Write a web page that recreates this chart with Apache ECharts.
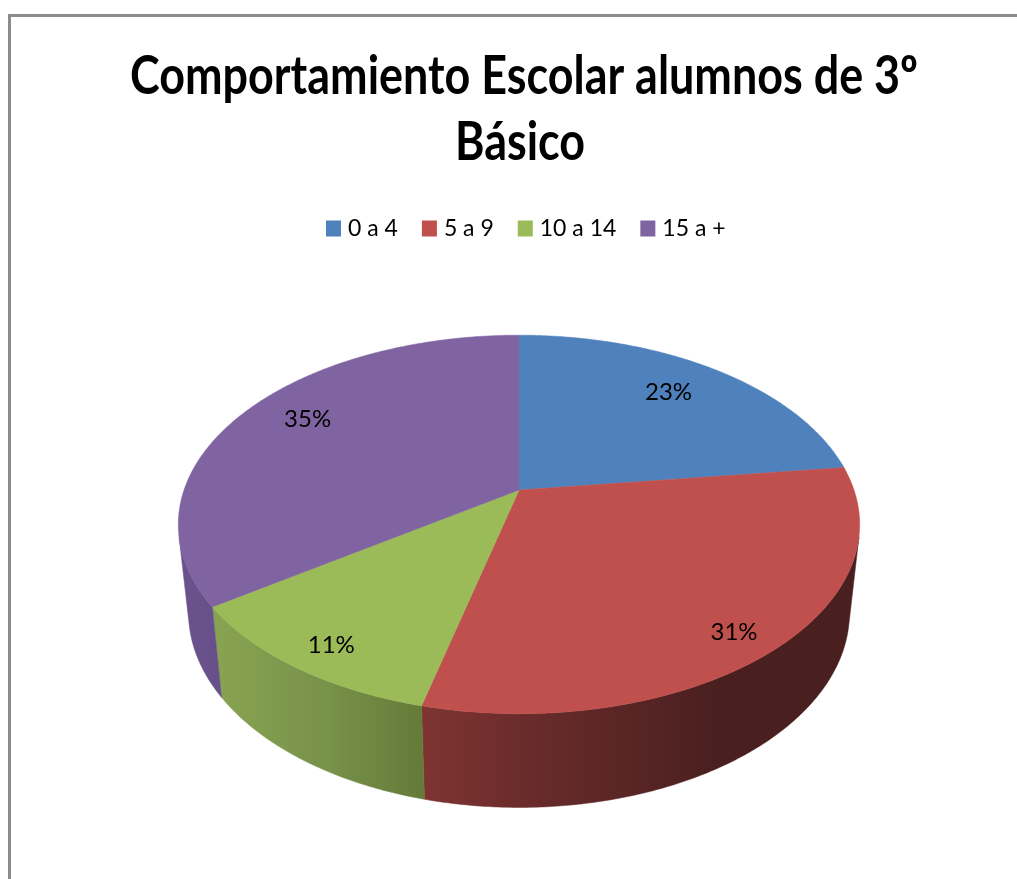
<!DOCTYPE html>
<html>
<head>
<meta charset="utf-8">
<style>html,body{margin:0;padding:0;background:#fff}#c{width:1017px;height:879px}</style>
<script src="https://cdn.jsdelivr.net/npm/echarts@6/dist/echarts.min.js"></script>
</head>
<body>
<div id="c"></div>
<script>
// Data: slice shares; printed labels are their rounded values
const categories = ['0 a 4', '5 a 9', '10 a 14', '15 a +'];
const shares = [23, 30.85, 11.45, 34.7];
const titleLines = ['Comportamiento Escolar alumnos de 3º', 'Básico'];

// Styles
const topColors = ['#4F81BD', '#C0504D', '#9BBB59', '#8064A2'];
const wallStops = [
  [['#3A5F8C', 0], ['#3A5F8C', 1]],
  [['#7E3431', 0], ['#6A2B2B', 0.35], ['#4A1F1F', 1]],
  [['#87A351', 0], ['#78934A', 0.5], ['#647A38', 1]],
  [['#6B528D', 0], ['#67508A', 1]]
];
const wallRanges = [[519, 860], [423, 720], [219, 426], [180, 219]];

// Perspective layout of the pie disc
const apexX = 519, apexTop = 490, apexBottom = 577;
const discA = 335, discB = 183, discK = 0.182;
const bottomScaleX = 0.97, bottomScaleY = 1.03;
const labelRadius = [0.76, 0.85, 0.87, 0.78];
const labelNudge = [[-3, -3], [1, 11], [2, 4], [6, -9]];
const titleCenters = [524, 520];
const titleMiddles = [77, 143];
const total = shares.reduce((a, b) => a + b, 0);

function project(theta, r) {
  const u = r * Math.sin(theta), v = r * Math.cos(theta), w = 1 + discK * v;
  return [discA * u / w, -discB * v / w];
}
function topPoint(theta, r) {
  const p = project(theta, r);
  return [apexX + p[0], apexTop + p[1]];
}
function bottomPoint(theta) {
  const p = project(theta, 1);
  return [apexX + bottomScaleX * p[0], apexBottom + bottomScaleY * p[1]];
}
function samples(a0, a1) {
  const n = Math.max(2, Math.ceil((a1 - a0) / (Math.PI / 360)));
  const out = [];
  for (let i = 0; i <= n; i++) out.push(a0 + (a1 - a0) * i / n);
  return out;
}
// A rim sample faces the viewer when the rim runs against the drop from the top disc to the bottom disc
function facesViewer(theta) {
  const d = 0.001;
  const a = topPoint(theta, 1), b = topPoint(theta + d, 1), c = bottomPoint(theta);
  return (b[0] - a[0]) * (c[1] - a[1]) - (b[1] - a[1]) * (c[0] - a[0]) < 0;
}

function sliceRenderer(index) {
  return function () {
    const before = shares.slice(0, index).reduce((a, b) => a + b, 0);
    const a0 = before / total * 2 * Math.PI;
    const a1 = (before + shares[index]) / total * 2 * Math.PI;
    const all = samples(a0, a1);
    const front = all.filter(facesViewer);
    const face = [[apexX, apexTop]].concat(all.map(t => topPoint(t, 1)));
    const lp = topPoint((a0 + a1) / 2, labelRadius[index]);
    const fill = {
      type: 'linear', global: true,
      x: wallRanges[index][0], y: 0, x2: wallRanges[index][1], y2: 0,
      colorStops: wallStops[index].map(s => ({ color: s[0], offset: s[1] }))
    };
    const children = [];
    if (front.length > 1) {
      const wall = front.map(t => topPoint(t, 1)).concat(front.slice().reverse().map(bottomPoint));
      children.push({ type: 'polygon', z2: 1, shape: { points: wall }, style: { fill: fill, stroke: fill, lineWidth: 0.5 } });
    }
    children.push({ type: 'polygon', z2: 10, shape: { points: face }, style: { fill: topColors[index], stroke: topColors[index], lineWidth: 0.5 } });
    children.push({ type: 'text', z2: 20, style: {
      x: lp[0] + labelNudge[index][0], y: lp[1] + labelNudge[index][1],
      text: Math.round(shares[index]) + '%', align: 'center', verticalAlign: 'middle',
      fill: '#000', font: '24px Lato'
    } });
    return { type: 'group', children: children };
  };
}

const chart = echarts.init(document.getElementById('c'), null, { renderer: 'canvas' });
chart.setOption({
  animation: false,
  backgroundColor: '#fff',
  legend: {
    top: 217, left: 326, padding: 0, itemWidth: 15, itemHeight: 16, itemGap: 24, icon: 'rect',
    data: categories,
    textStyle: { fontFamily: 'Lato', fontSize: 23, color: '#000', padding: [0, 0, 0, 2] }
  },
  graphic: [
    { type: 'polyline', shape: { points: [[9.5, 879], [9.5, 15.5], [1017, 15.5]] }, style: { stroke: '#8B8B8B', lineWidth: 3, fill: null } }
  ].concat(titleLines.map((line, i) => ({
    type: 'text', x: titleCenters[i], y: titleMiddles[i], scaleX: 0.847,
    style: { text: line, align: 'center', verticalAlign: 'middle', fill: '#000', font: 'bold 53px Lato' }
  }))),
  series: categories.map((name, i) => ({
    type: 'custom', name: name, coordinateSystem: 'none',
    itemStyle: { color: topColors[i] },
    renderItem: sliceRenderer(i),
    data: [shares[i]]
  }))
});
</script>
</body>
</html>
